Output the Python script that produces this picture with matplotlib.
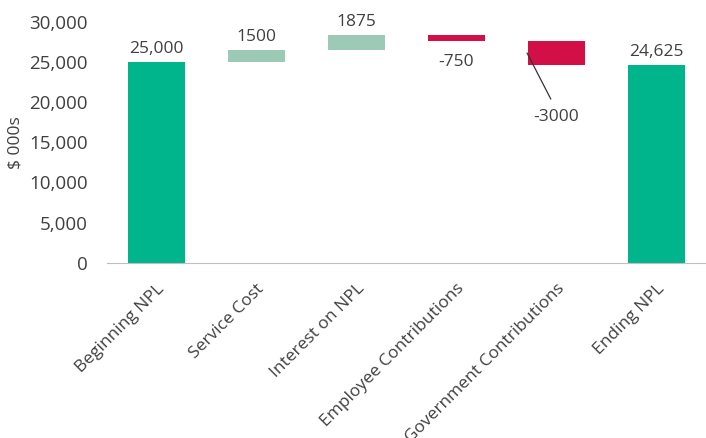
import matplotlib
matplotlib.use("Agg")
import matplotlib.pyplot as plt

plt.rcParams["font.family"] = ["Open Sans", "DejaVu Sans"]

categories = ["Beginning NPL", "Service Cost", "Interest on NPL",
              "Employee Contributions", "Government Contributions", "Ending NPL"]
changes = [25000, 1500, 1875, -750, -3000, 24625]
is_total = [True, False, False, False, False, True]
value_labels = ["25,000", "1500", "1875", "-750", "-3000", "24,625"]

total_color = "#00b48c"
up_color = "#9ccab6"
down_color = "#d20f46"
text_color = "#404040"

bottoms = []
heights = []
colors = []
running = 0
for v, tot in zip(changes, is_total):
    if tot:
        bottoms.append(0)
        heights.append(v)
        colors.append(total_color)
        running = v
    else:
        if v >= 0:
            bottoms.append(running)
            colors.append(up_color)
        else:
            bottoms.append(running + v)
            colors.append(down_color)
        heights.append(abs(v))
        running += v

fig = plt.figure(figsize=(7.06, 4.38), dpi=100)
ax = fig.add_axes([0.152, 0.40, 0.848, 0.55])
x = list(range(len(categories)))
ax.bar(x, heights, bottom=bottoms, width=0.57, color=colors)

for i, (b, h, v, lab) in enumerate(zip(bottoms, heights, changes, value_labels)):
    if v >= 0 or is_total[i]:
        ax.text(i, b + h + 650, lab, ha="center", va="bottom",
                fontsize=12.5, color=text_color)
    elif i == 4:
        # leader line from the bar to its label
        ax.annotate(lab, xy=(i - 0.29, b + h - 1500), xytext=(i, b - 6500),
                    ha="center", va="center", fontsize=12.5, color=text_color,
                    arrowprops=dict(arrowstyle="-", color="#333333", lw=0.9,
                                    relpos=(0.5, 1.0), shrinkA=6, shrinkB=0))
    else:
        ax.text(i, b - 1600, lab, ha="center", va="top",
                fontsize=12.5, color=text_color)

ax.set_xlim(-0.49, 5.5)
ax.set_ylim(0, 30000)
ax.set_yticks(range(0, 30001, 5000))
ax.set_yticklabels([f"{t:,}" for t in range(0, 30001, 5000)])
ax.set_xticks(x)
ax.set_xticklabels(categories, rotation=45, ha="right", rotation_mode="anchor")
ax.tick_params(axis="both", length=0, colors=text_color)
ax.tick_params(axis="x", pad=13, labelsize=12.5)
ax.tick_params(axis="y", pad=14, labelsize=13.5)
ax.set_ylabel("$ 000s", fontsize=12.5, color=text_color, labelpad=2)
ax.yaxis.set_label_coords(-0.14, 0.5)

for s in ["top", "right", "left"]:
    ax.spines[s].set_visible(False)
ax.spines["bottom"].set_color("#bfbfbf")

fig.savefig("out.png", dpi=100)
